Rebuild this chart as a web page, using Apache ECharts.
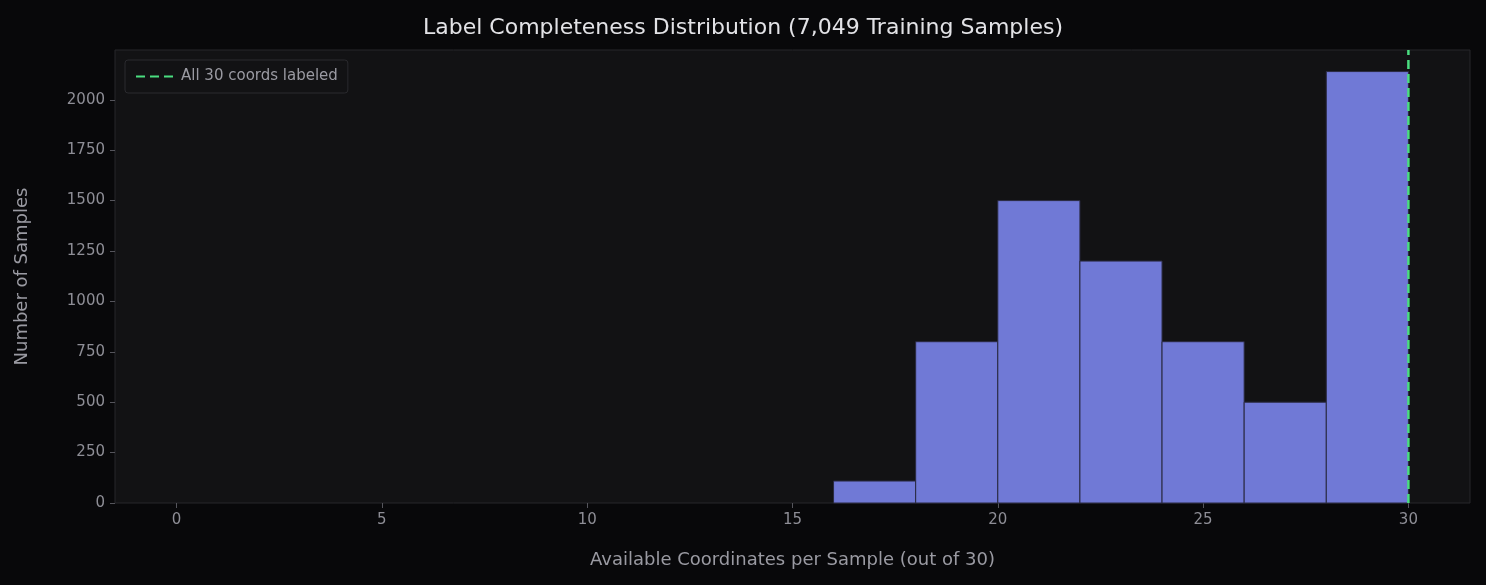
<!DOCTYPE html>
<html>
<head>
<meta charset="utf-8">
<script src="https://cdn.jsdelivr.net/npm/echarts@6/dist/echarts.min.js"></script>
<style>html,body{margin:0;background:#08080a;}#main{width:1486px;height:585px;}</style>
</head>
<body>
<div id="main"></div>
<script>
// histogram bins: [start, end, count]
var binStarts = [16, 18, 20, 22, 24, 26, 28];
var binEnds = [18, 20, 22, 24, 26, 28, 30];
var binCounts = [109, 800, 1500, 1200, 800, 500, 2140];
var xTicks = [0, 5, 10, 15, 20, 25, 30];
var yTicks = [0, 250, 500, 750, 1000, 1250, 1500, 1750, 2000];
var fullLine = [[30, 0], [30, 2247]];

var bins = binStarts.map(function (s, i) { return [s, binEnds[i], binCounts[i]]; });

var myChart = echarts.init(document.getElementById('main'));
var tickColor = '#8e8e96';
myChart.setOption({
    backgroundColor: '#08080a',
    title: {
        text: 'Label Completeness Distribution (7,049 Training Samples)',
        left: 'center', top: 12,
        textStyle: { color: '#e2e2e6', fontSize: 22, fontWeight: 'normal', fontFamily: 'DejaVu Sans' }
    },
    legend: {
        left: 125, top: 60,
        padding: [9, 10],
        backgroundColor: '#121214',
        borderColor: '#2a2a2e', borderWidth: 1, borderRadius: 3,
        itemWidth: 40, itemHeight: 10, itemGap: 14,
        itemStyle: { color: 'transparent', borderWidth: 0 },
        textStyle: { color: '#9a9aa2', fontSize: 15, fontFamily: 'DejaVu Sans' },
        data: ['All 30 coords labeled']
    },
    grid: {
        left: 115, right: 16, top: 50, bottom: 82,
        show: true, backgroundColor: '#121214', borderColor: '#26262a', borderWidth: 1
    },
    xAxis: {
        type: 'value', min: -1.5, max: 31.5,
        name: 'Available Coordinates per Sample (out of 30)',
        nameLocation: 'middle', nameGap: 48,
        nameTextStyle: { color: '#9a9aa2', fontSize: 18, fontFamily: 'DejaVu Sans' },
        splitLine: { show: false },
        axisLine: { show: false, onZero: false },
        axisTick: { show: true, customValues: xTicks, length: 5, lineStyle: { color: '#55555c' } },
        axisLabel: { customValues: xTicks, color: tickColor, fontSize: 15, margin: 10, fontFamily: 'DejaVu Sans' }
    },
    yAxis: {
        type: 'value', min: 0, max: 2247,
        name: 'Number of Samples',
        nameLocation: 'middle', nameGap: 84,
        nameTextStyle: { color: '#9a9aa2', fontSize: 18, fontFamily: 'DejaVu Sans' },
        splitLine: { show: false },
        axisLine: { show: false, onZero: false },
        axisTick: { show: true, customValues: yTicks, length: 5, lineStyle: { color: '#55555c' } },
        axisLabel: {
            customValues: yTicks, color: tickColor, fontSize: 15, margin: 10, fontFamily: 'DejaVu Sans',
            formatter: function (v) { return String(v); }
        }
    },
    series: [{
        type: 'custom',
        name: 'bins',
        data: bins,
        renderItem: function (params, api) {
            var p0 = api.coord([api.value(0), 0]);
            var p1 = api.coord([api.value(1), api.value(2)]);
            return {
                type: 'rect',
                shape: { x: p0[0], y: p1[1], width: p1[0] - p0[0], height: p0[1] - p1[1] },
                style: { fill: '#7079d6', stroke: '#2a2a40', lineWidth: 1 }
            };
        }
    }, {
        type: 'line',
        name: 'All 30 coords labeled',
        data: fullLine,
        symbol: 'none',
        z: 5,
        lineStyle: { color: '#4ade80', width: 2.5, type: [9, 5] },
        itemStyle: { color: '#4ade80' }
    }]
});
</script>
</body>
</html>
